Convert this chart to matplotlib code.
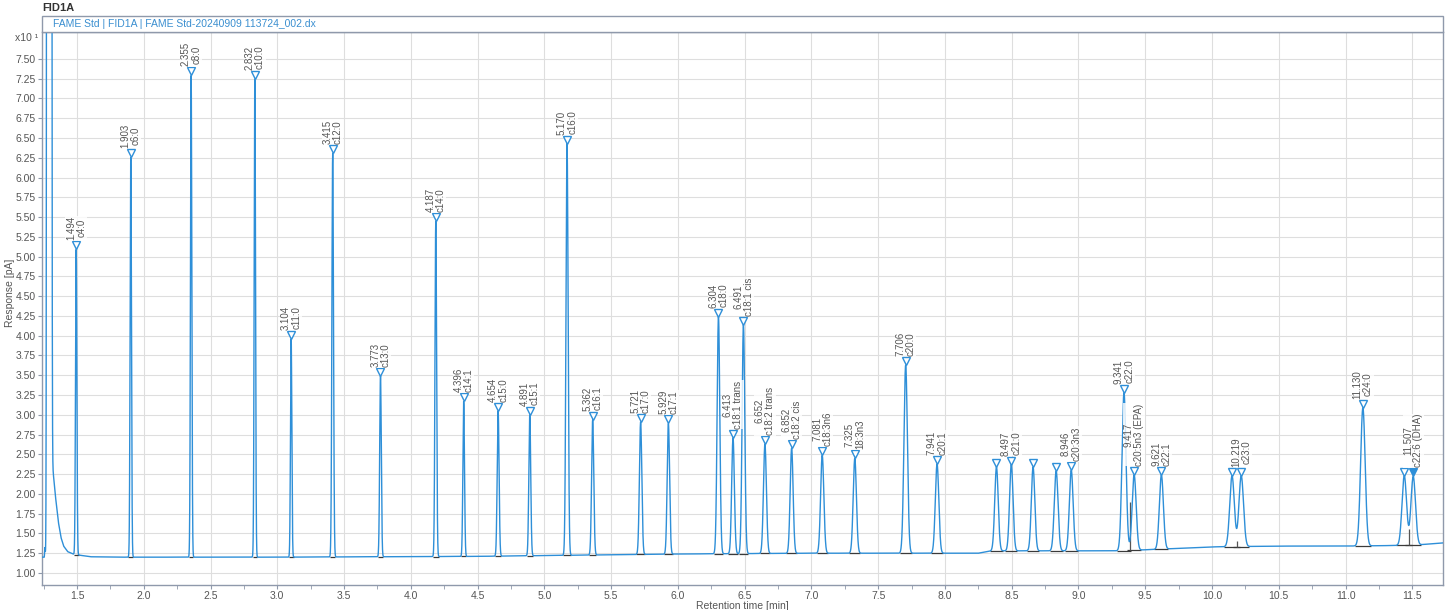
import numpy as np
import matplotlib.pyplot as plt
import matplotlib.transforms as mtransforms
from matplotlib.patches import Rectangle

plt.rcParams['font.family'] = ['Liberation Sans', 'DejaVu Sans']

# peak table (retention time, apex response x10 pA, width)
peak_rt = [1.494, 1.903, 2.355, 2.832, 3.104, 3.415, 3.773, 4.187, 4.396, 4.654,
           4.891, 5.170, 5.362, 5.721, 5.929, 6.304, 6.413, 6.491, 6.652, 6.852,
           7.081, 7.325, 7.706, 7.941, 8.386, 8.497, 8.660, 8.833, 8.946, 9.341,
           9.417, 9.621, 10.150, 10.219, 11.130, 11.440, 11.507]
peak_apex = [5.09, 6.26, 7.29, 7.25, 3.96, 6.31, 3.49, 5.45, 3.17, 3.05,
             3.00, 6.43, 2.94, 2.91, 2.89, 4.24, 2.71, 4.14, 2.63, 2.58,
             2.49, 2.45, 3.63, 2.38, 2.34, 2.37, 2.34, 2.29, 2.30, 3.28,
             2.24, 2.24, 2.23, 2.23, 3.09, 2.23, 2.22]
peak_sigma = [0.005, 0.005, 0.005, 0.005, 0.005, 0.006, 0.006, 0.006, 0.006, 0.007,
              0.007, 0.008, 0.008, 0.009, 0.009, 0.010, 0.010, 0.010, 0.011, 0.011,
              0.012, 0.012, 0.013, 0.013, 0.013, 0.013, 0.013, 0.014, 0.014, 0.015,
              0.015, 0.015, 0.017, 0.017, 0.017, 0.017, 0.017]
peak_names = ["c4:0", "c6:0", "c8:0", "c10:0", "c11:0", "c12:0", "c13:0", "c14:0", "c14:1", "c15:0",
              "c15:1", "c16:0", "c16:1", "c17:0", "c17:1", "c18:0", "c18:1 trans", "c18:1 cis",
              "c18:2 trans", "c18:2 cis", "c18:3n6", "18:3n3", "c20:0", "c20:1", "", "c21:0",
              "", "", "c20:3n3", "c22:0", "c20:5n3 (EPA)", "c22:1", "", "c23:0", "c24:0", "",
              "c22:6 (DHA)"]
selected_peak = 11.507

# baseline incl. solvent tail
base_t = [1.238, 1.255, 1.260, 1.265, 1.280, 1.310, 1.320, 1.340, 1.360, 1.380, 1.400,
          1.430, 1.470, 1.520, 1.600, 1.800, 3.000, 4.500, 5.000, 6.000, 7.000, 8.250,
          8.350, 9.300, 9.600, 10.000, 10.500, 11.000, 11.500, 11.730]
base_y = [1.20, 1.20, 1.32, 1.20, 1.20, 2.60, 2.30, 1.95, 1.65, 1.45, 1.34,
          1.27, 1.24, 1.225, 1.205, 1.20, 1.20, 1.21, 1.22, 1.24, 1.25, 1.25,
          1.28, 1.28, 1.30, 1.33, 1.34, 1.34, 1.35, 1.38]
solvent_rt, solvent_amp, solvent_sigma = 1.292, 3000.0, 0.006

drop_t = [9.385, 10.185, 11.474]
drop_top = [1.90, 1.40, 1.55]

xticks = np.arange(1.5, 11.51, 0.5)
yticks = np.arange(1.0, 7.51, 0.25)

line_c = '#2e8fd8'
text_c = '#555555'
frame_c = '#8f99ab'

t = np.linspace(1.238, 11.73, 20000)
baseline = np.interp(t, base_t, base_y)
signal = baseline + solvent_amp * np.exp(-0.5 * ((t - solvent_rt) / solvent_sigma) ** 2)
peak_base = np.interp(peak_rt, base_t, base_y)
for rt, ap, sg, b in zip(peak_rt, peak_apex, peak_sigma, peak_base):
    signal += (ap - b) * np.exp(-0.5 * ((t - rt) / sg) ** 2)

fig = plt.figure(figsize=(14.48, 6.10), dpi=100)
ax = fig.add_axes([42 / 1448, 25 / 610, 1401 / 1448, 553 / 610])

ax.plot(t, signal, color=line_c, lw=1.0, zorder=3)

# integration baselines and drop lines
rt_a = np.array(peak_rt)
sg_a = np.array(peak_sigma)
ax.hlines(peak_base, rt_a - 3.5 * sg_a, rt_a + 3.5 * sg_a, color='#3a3a3a', lw=0.9, zorder=2)
ax.vlines(drop_t, np.interp(drop_t, base_t, base_y), drop_top, color='#555555', lw=0.9, zorder=2)

# peak markers and labels
mark_tr = mtransforms.offset_copy(ax.transData, fig=fig, y=4, units='dots')
text_tr = mtransforms.offset_copy(ax.transData, fig=fig, y=9, units='dots')
for rt, ap, name in zip(peak_rt, peak_apex, peak_names):
    filled = abs(rt - selected_peak) < 1e-6
    ax.plot([rt], [ap], marker='v', ms=6, mew=1.0, mec=line_c,
            mfc=line_c if filled else 'white', transform=mark_tr, zorder=4)
    if name:
        ax.text(rt, ap, f"{rt:.3f}\n{name}", rotation=90, ha='center', va='bottom',
                fontsize=7, color=text_c, linespacing=1.05, transform=text_tr, zorder=5,
                bbox=dict(boxstyle='square,pad=0.05', fc='white', ec='none', alpha=0.8))

ax.set_xlim(1.238, 11.73)
ax.set_ylim(0.848, 7.84)
ax.set_xticks(xticks)
ax.set_xticks(np.arange(1.25, 11.73, 0.25), minor=True)
ax.set_xticklabels([f"{v:.1f}" for v in xticks])
ax.set_yticks(yticks)
ax.set_yticklabels([f"{v:.2f}" for v in yticks])
ax.tick_params(axis='both', labelsize=7.5, colors=frame_c, labelcolor=text_c, length=3, width=0.8, pad=1.5)
ax.tick_params(axis='x', which='minor', length=3, colors=frame_c)
ax.grid(True, which='major', color='#dedede', lw=0.8, zorder=0)
for s in ax.spines.values():
    s.set_color(frame_c)
    s.set_linewidth(1.0)

ax.set_xlabel("Retention time [min]", fontsize=7.5, color=text_c, labelpad=0)
fig.text(0.007, 0.52, "Response [pA]", rotation=90, ha='center', va='center', fontsize=7.5, color=text_c)
fig.text(38 / 1448, 1 - 38 / 610, "x10 \u00b9", ha='right', va='center', fontsize=7.5, color=text_c)

# title bar
fig.patches.append(Rectangle((42 / 1448, 1 - 32 / 610), 1401 / 1448, 16 / 610, transform=fig.transFigure,
                             fc='white', ec=frame_c, lw=1.0))
fig.text(53 / 1448, 1 - 24 / 610, "FAME Std | FID1A | FAME Std-20240909 113724_002.dx",
         ha='left', va='center', fontsize=7.5, color='#3b8fd0')
fig.text(42 / 1448, 1 - 8 / 610, "FID1A", ha='left', va='center', fontsize=8, fontweight='bold', color='#333333')

fig.savefig("out.png", dpi=100)
